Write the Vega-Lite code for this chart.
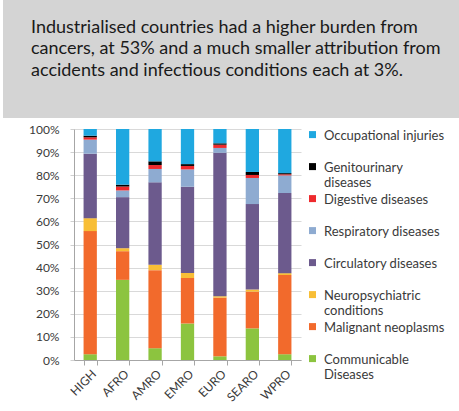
{
  "$schema": "https://vega.github.io/schema/vega-lite/v6.json",
  "background": "#ffffff",
  "padding": 0,
  "spacing": 5,
  "config": {"view": {"stroke": null}},
  "resolve": {"scale": {"x": "independent", "y": "independent", "color": "independent"}, "legend": {"color": "independent"}},
  "vconcat": [
    {
      "width": 459,
      "height": 118,
      "view": {"fill": "#d4d4d4", "stroke": null},
      "data": {"values": [
        {"line": 1, "text": "Industrialised countries had a higher burden from"},
        {"line": 2, "text": "cancers, at 53% and a much smaller attribution from"},
        {"line": 3, "text": "accidents and infectious conditions  each at 3%."}
      ]},
      "mark": {"type": "text", "align": "left", "baseline": "middle", "font": "Lato", "fontSize": 18, "color": "#1a1a1a"},
      "encoding": {
        "x": {"datum": 0.061, "type": "quantitative", "scale": {"domain": [0, 1], "nice": false, "zero": false}, "axis": null},
        "y": {"field": "line", "type": "quantitative", "scale": {"domain": [-0.302, 5.186], "reverse": true, "nice": false, "zero": false}, "axis": null},
        "text": {"field": "text"}
      }
    },
    {
      "spacing": 0,
      "resolve": {"scale": {"x": "independent", "y": "independent", "color": "independent"}, "legend": {"color": "independent"}},
      "hconcat": [
        {
          "width": 1,
          "height": 1,
          "data": {"values": [{"s": 0}]},
          "mark": {"type": "point", "opacity": 0},
          "encoding": {}
        },
        {
          "width": 227,
          "height": 231,
          "data": {"values": [
            {"region": "HIGH", "cause": "Communicable Diseases", "k": 1, "value": 2.5},
            {"region": "HIGH", "cause": "Malignant neoplasms", "k": 2, "value": 53.3},
            {"region": "HIGH", "cause": "Neuropsychiatric conditions", "k": 3, "value": 5.6},
            {"region": "HIGH", "cause": "Circulatory diseases", "k": 4, "value": 27.9},
            {"region": "HIGH", "cause": "Respiratory diseases", "k": 5, "value": 6.1},
            {"region": "HIGH", "cause": "Digestive diseases", "k": 6, "value": 1.0},
            {"region": "HIGH", "cause": "Genitourinary diseases", "k": 7, "value": 0.7},
            {"region": "HIGH", "cause": "Occupational injuries", "k": 8, "value": 2.9},
            {"region": "AFRO", "cause": "Communicable Diseases", "k": 1, "value": 34.7},
            {"region": "AFRO", "cause": "Malignant neoplasms", "k": 2, "value": 12.4},
            {"region": "AFRO", "cause": "Neuropsychiatric conditions", "k": 3, "value": 1.3},
            {"region": "AFRO", "cause": "Circulatory diseases", "k": 4, "value": 22.1},
            {"region": "AFRO", "cause": "Respiratory diseases", "k": 5, "value": 2.9},
            {"region": "AFRO", "cause": "Digestive diseases", "k": 6, "value": 1.7},
            {"region": "AFRO", "cause": "Genitourinary diseases", "k": 7, "value": 0.8},
            {"region": "AFRO", "cause": "Occupational injuries", "k": 8, "value": 24.1},
            {"region": "AMRO", "cause": "Communicable Diseases", "k": 1, "value": 5.1},
            {"region": "AMRO", "cause": "Malignant neoplasms", "k": 2, "value": 33.8},
            {"region": "AMRO", "cause": "Neuropsychiatric conditions", "k": 3, "value": 2.3},
            {"region": "AMRO", "cause": "Circulatory diseases", "k": 4, "value": 35.7},
            {"region": "AMRO", "cause": "Respiratory diseases", "k": 5, "value": 5.8},
            {"region": "AMRO", "cause": "Digestive diseases", "k": 6, "value": 1.7},
            {"region": "AMRO", "cause": "Genitourinary diseases", "k": 7, "value": 1.6},
            {"region": "AMRO", "cause": "Occupational injuries", "k": 8, "value": 14.0},
            {"region": "EMRO", "cause": "Communicable Diseases", "k": 1, "value": 15.8},
            {"region": "EMRO", "cause": "Malignant neoplasms", "k": 2, "value": 19.7},
            {"region": "EMRO", "cause": "Neuropsychiatric conditions", "k": 3, "value": 2.2},
            {"region": "EMRO", "cause": "Circulatory diseases", "k": 4, "value": 37.3},
            {"region": "EMRO", "cause": "Respiratory diseases", "k": 5, "value": 7.5},
            {"region": "EMRO", "cause": "Digestive diseases", "k": 6, "value": 1.5},
            {"region": "EMRO", "cause": "Genitourinary diseases", "k": 7, "value": 0.8},
            {"region": "EMRO", "cause": "Occupational injuries", "k": 8, "value": 15.2},
            {"region": "EURO", "cause": "Communicable Diseases", "k": 1, "value": 1.6},
            {"region": "EURO", "cause": "Malignant neoplasms", "k": 2, "value": 25.4},
            {"region": "EURO", "cause": "Neuropsychiatric conditions", "k": 3, "value": 0.6},
            {"region": "EURO", "cause": "Circulatory diseases", "k": 4, "value": 62.1},
            {"region": "EURO", "cause": "Respiratory diseases", "k": 5, "value": 2.1},
            {"region": "EURO", "cause": "Digestive diseases", "k": 6, "value": 1.4},
            {"region": "EURO", "cause": "Genitourinary diseases", "k": 7, "value": 0.6},
            {"region": "EURO", "cause": "Occupational injuries", "k": 8, "value": 6.2},
            {"region": "SEARO", "cause": "Communicable Diseases", "k": 1, "value": 13.7},
            {"region": "SEARO", "cause": "Malignant neoplasms", "k": 2, "value": 15.9},
            {"region": "SEARO", "cause": "Neuropsychiatric conditions", "k": 3, "value": 0.9},
            {"region": "SEARO", "cause": "Circulatory diseases", "k": 4, "value": 37.0},
            {"region": "SEARO", "cause": "Respiratory diseases", "k": 5, "value": 11.3},
            {"region": "SEARO", "cause": "Digestive diseases", "k": 6, "value": 1.3},
            {"region": "SEARO", "cause": "Genitourinary diseases", "k": 7, "value": 1.3},
            {"region": "SEARO", "cause": "Occupational injuries", "k": 8, "value": 18.6},
            {"region": "WPRO", "cause": "Communicable Diseases", "k": 1, "value": 2.5},
            {"region": "WPRO", "cause": "Malignant neoplasms", "k": 2, "value": 34.3},
            {"region": "WPRO", "cause": "Neuropsychiatric conditions", "k": 3, "value": 0.8},
            {"region": "WPRO", "cause": "Circulatory diseases", "k": 4, "value": 34.7},
            {"region": "WPRO", "cause": "Respiratory diseases", "k": 5, "value": 7.6},
            {"region": "WPRO", "cause": "Digestive diseases", "k": 6, "value": 0.5},
            {"region": "WPRO", "cause": "Genitourinary diseases", "k": 7, "value": 0.5},
            {"region": "WPRO", "cause": "Occupational injuries", "k": 8, "value": 19.1}
          ]},
          "mark": {"type": "bar"},
          "encoding": {
            "x": {
              "field": "region", "type": "nominal",
              "sort": ["HIGH", "AFRO", "AMRO", "EMRO", "EURO", "SEARO", "WPRO"],
              "scale": {"paddingInner": 0.59, "paddingOuter": 0.295},
              "axis": {"title": null, "labelAngle": -45, "labelFont": "Lato", "labelFontSize": 12, "labelColor": "#3a3a3a", "domainColor": "#a6a6a6", "tickColor": "#a6a6a6", "tickSize": 5, "tickBand": "extent", "labelPadding": 3}
            },
            "y": {
              "field": "value", "type": "quantitative", "stack": "normalize",
              "scale": {"domain": [0, 1], "nice": false},
              "axis": {"title": null, "values": [0, 0.1, 0.2, 0.3, 0.4, 0.5, 0.6, 0.7, 0.8, 0.9, 1], "format": ".0%", "labelFont": "Lato", "labelFontSize": 12, "labelColor": "#3a3a3a", "domainColor": "#a6a6a6", "tickColor": "#d0d0d0", "tickSize": 4, "labelPadding": 11, "gridColor": "#d9d9d9", "minExtent": 67, "maxExtent": 67}
            },
            "color": {
              "field": "cause", "type": "nominal",
              "scale": {
                "domain": ["Occupational injuries", "Genitourinary diseases", "Digestive diseases", "Respiratory diseases", "Circulatory diseases", "Neuropsychiatric conditions", "Malignant neoplasms", "Communicable Diseases"],
                "range": ["#1fa8e0", "#000000", "#ee2a2d", "#8eabd1", "#6c5a8d", "#f8be36", "#f26a2c", "#8cc43f"]
              },
              "legend": {
                "title": null, "orient": "right", "offset": 1, "padding": 4,
                "symbolType": "M-1,-2.4H1V-0.4H-1Z", "symbolSize": 49, "symbolStrokeWidth": 0,
                "labelFont": "Lato", "labelFontSize": 13, "labelColor": "#3a3a3a",
                "labelBaseline": "alphabetic", "labelOffset": 5, "labelLimit": 200,
                "gridAlign": "all", "rowPadding": 3,
                "labelExpr": "datum.label == 'Genitourinary diseases' ? ['Genitourinary', 'diseases'] : datum.label == 'Neuropsychiatric conditions' ? ['Neuropsychiatric', 'conditions'] : datum.label == 'Communicable Diseases' ? ['Communicable', 'Diseases'] : datum.label"
              }
            },
            "order": {"field": "k", "type": "quantitative", "sort": "ascending"}
          }
        }
      ]
    }
  ]
}
